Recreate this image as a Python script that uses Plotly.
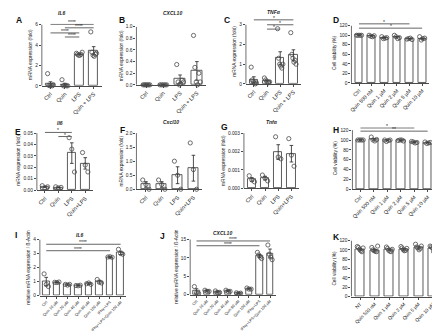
import numpy as np
import plotly.graph_objects as go

W, H = 440, 331
FONT = "Liberation Sans"
LC = "#4a4a4a"

# ---------------- data ----------------
grp4 = ["Ctrl", "Quin", "LPS", "Quin + LPS"]
grp4b = ["Ctrl", "Quin", "LPS", "Quin+LPS"]
dose6 = ["Ctrl", "Quin 500 nM", "Quin 1 µM", "Quin 2 µM", "Quin 5 µM", "Quin 10 µM"]
dose6k = ["NT", "Quin 500 nM", "Quin 1 µM", "Quin 2 µM", "Quin 5 µM", "Quin 10 µM"]
grp8 = ["Ctrl", "Quin 10 µM", "Quin 20 µM", "Quin 40 µM", "Quin 80 µM", "Quin 100 µM",
        "IFNγ+LPS", "IFNγ+LPS+Quin 100 µM"]

A_mean = [0.2, 0.13, 3.1, 3.45]
A_sem = [0.2, 0.12, 0.05, 0.4]
A_pts = [[1.2, 0.05, 0.0, 0.05, 0.0, 0.1], [0.6, 0.0, 0.05, 0.0, 0.0],
         [3.2, 3.1, 3.0, 3.0, 3.1, 3.3], [5.3, 3.3, 3.0, 2.9, 3.1, 3.2]]
A_sig = [(0, 3, 6.05, "****"), (1, 3, 5.7, "****"), (0, 2, 5.2, "****"), (1, 2, 4.8, "****")]

B_mean = [0.0, 0.0, 0.1, 0.24]
B_sem = [0.0, 0.0, 0.07, 0.16]
B_pts = [[0, 0, 0, 0, 0, 0], [0, 0, 0, 0, 0],
         [0.35, 0.05, 0.0, 0.02, 0.08, 0.05], [0.85, 0.3, 0.05, 0.0, 0.2, 0.05]]

C_mean = [0.21, 0.15, 1.3, 1.45]
C_sem = [0.15, 0.05, 0.33, 0.28]
C_pts = [[0.85, 0.2, 0.1, 0.05, 0.0, 0.05], [0.3, 0.2, 0.1, 0.05, 0.1],
         [2.8, 1.3, 1.0, 0.9, 0.8, 1.0], [2.6, 1.5, 1.3, 1.1, 1.2, 1.0]]
C_sig = [(0, 3, 3.25, "*"), (1, 3, 3.0, "*"), (1, 2, 2.78, "*")]

D_mean = [100, 98.5, 94.5, 96, 92.5, 93]
D_sem = [0, 0.8, 0.9, 1.5, 0.7, 1.5]
D_pts = [[100, 100, 100, 100], [100, 98, 97, 99], [97, 93, 94, 95],
         [100, 97, 93, 95], [92, 93, 94, 91], [97, 90, 93, 94]]
D_sig = [(0, 4, 124, "*"), (0, 5, 115, "*")]

E_mean = [0.003, 0.0025, 0.0325, 0.0235]
E_sem = [0.0006, 0.0003, 0.009, 0.005]
E_pts = [[0.004, 0.002, 0.003], [0.003, 0.002, 0.0025],
         [0.046, 0.036, 0.016], [0.033, 0.022, 0.016]]
E_sig = [(0, 2, 0.0506, "*"), (1, 2, 0.047, "*")]

F_mean = [0.17, 0.17, 0.5, 0.75]
F_sem = [0.1, 0.1, 0.3, 0.46]
F_pts = [[0.33, 0.17, 0.0], [0.33, 0.17, 0.0], [1.0, 0.5, 0.0], [1.65, 0.7, 0.0]]

G_mean = [0.00048, 0.00055, 0.00197, 0.00188]
G_sem = [0.0001, 0.0001, 0.0004, 0.00045]
G_pts = [[0.00068, 0.00045, 0.00035], [0.00072, 0.00055, 0.0004],
         [0.0028, 0.0017, 0.0016], [0.0027, 0.0018, 0.0012]]

H_mean = [100, 101, 99, 99, 95.5, 94.5]
H_sem = [0, 1.5, 0.8, 0.5, 0.7, 0.7]
H_pts = [[100, 100, 100, 100], [106, 100, 98, 101], [100, 97, 99, 100],
         [99, 100, 100, 98], [97, 96, 94, 95], [96, 93, 94, 95]]
H_sig = [(0, 4, 124.5, "*"), (0, 5, 118, "**")]

I_mean = [1.0, 0.95, 0.78, 0.72, 0.85, 1.0, 2.75, 3.05]
I_sem = [0.3, 0.02, 0.05, 0.03, 0.06, 0.1, 0.03, 0.12]
I_pts = [[1.55, 0.8, 0.65], [0.95, 0.93, 0.97], [0.8, 0.75, 0.8], [0.72, 0.7, 0.74],
         [0.85, 0.9, 0.8], [1.15, 0.95, 0.9], [2.75, 2.77, 2.73], [3.3, 3.0, 2.95]]
I_sig = [(0, 7, 3.66, "****"), (0, 6, 3.2, "****")]

J_mean = [1.0, 1.0, 0.75, 1.0, 0.4, 1.6, 10.5, 11.2]
J_sem = [0.6, 0.2, 0.2, 0.15, 0.1, 0.15, 0.4, 1.2]
J_pts = [[2.2, 0.5, 0.3], [1.2, 0.9, 0.9], [1.0, 0.6, 0.6], [1.2, 0.9, 0.9],
         [0.5, 0.3, 0.4], [1.8, 1.5, 1.5], [11.5, 10.8, 10.2, 9.8], [13.5, 11.0, 10.2, 9.5]]
J_sig = [(0, 7, 14.6, "****"), (0, 6, 13.3, "****")]

K_mean = [100, 99, 100, 101, 104, 103]
K_sem = [2, 2, 2, 2, 2, 3]
K_pts = [[107, 105, 101, 98, 96, 104], [105, 100, 98, 97, 96, 108], [106, 103, 99, 97, 96, 101],
         [107, 104, 100, 98, 99, 103], [112, 106, 104, 100, 103, 108], [108, 106, 104, 96, 94, 105]]

# ---------------- panel configuration ----------------
mrna = "mRNA expression (fold)"
via = "Cell viability (%)"
rel = "relative mRNA expression / ß-Actin"

panels = [
    dict(L="A", cats=grp4, m=A_mean, s=A_sem, p=A_pts, sig=A_sig, ticks=[0, 2, 4, 6], fmt="{:.0f}",
         rmax=6.1, box=(32, 92, 15, 77), yt=mrna, title="<i>IL6</i>", tpos=(52, 3), lpos=(4, 10), xf=5.6),
    dict(L="B", cats=grp4, m=B_mean, s=B_sem, p=B_pts, sig=[], ticks=[0, 0.2, 0.4, 0.6, 0.8, 1.0], fmt="{:.1f}",
         rmax=1.0, box=(127, 197, 17, 76), yt=mrna, title="<i>CXCL10</i>", tpos=(163, 3), lpos=(107, 10), xf=5.6),
    dict(L="C", cats=grp4, m=C_mean, s=C_sem, p=C_pts, sig=C_sig, ticks=[0, 1, 2, 3], fmt="{:.0f}",
         rmax=3.3, box=(237, 292, 15, 75), yt=mrna, title="<i>TNFα</i>", tpos=(265, 2.5), lpos=(213, 10), xf=5.6),
    dict(L="D", cats=dose6, m=D_mean, s=D_sem, p=D_pts, sig=D_sig, ticks=list(range(0, 121, 20)), fmt="{:.0f}",
         rmax=126, box=(343, 421, 16, 74), yt=via, title="", tpos=(0, 0), lpos=(322, 10), xf=5.2),
    dict(L="E", cats=grp4b, m=E_mean, s=E_sem, p=E_pts, sig=E_sig, ticks=[0, 0.01, 0.02, 0.03, 0.04, 0.05], fmt="{:.2f}",
         rmax=0.052, box=(27, 83, 125, 183), yt=mrna, title="<i>Il6</i>", tpos=(50, 115), lpos=(3, 124), xf=5.6),
    dict(L="F", cats=grp4b, m=F_mean, s=F_sem, p=F_pts, sig=[], ticks=[0, 0.5, 1.0, 1.5, 2.0], fmt="{:.1f}",
         rmax=2.0, box=(127, 193, 125, 182), yt=mrna, title="<i>Cxcl10</i>", tpos=(162, 114), lpos=(108, 122), xf=5.6),
    dict(L="G", cats=grp4b, m=G_mean, s=G_sem, p=G_pts, sig=[], ticks=[0, 0.001, 0.002, 0.003], fmt="{:.3f}",
         rmax=0.003, box=(235, 290, 125, 181), yt=mrna, title="<i>Tnfα</i>", tpos=(263, 114), lpos=(210, 119), xf=5.6),
    dict(L="H", cats=dose6, m=H_mean, s=H_sem, p=H_pts, sig=H_sig, ticks=list(range(0, 121, 20)), fmt="{:.0f}",
         rmax=126, box=(344, 427, 122, 182), yt=via, title="", tpos=(0, 0), lpos=(322, 122), xf=5.2),
    dict(L="I", cats=grp8, m=I_mean, s=I_sem, p=I_pts, sig=I_sig, ticks=[0, 1, 2, 3, 4], fmt="{:.0f}",
         rmax=4.0, box=(30, 117, 233, 290), yt=rel, title="<i>IL6</i>", tpos=(70, 228), lpos=(3, 228), xf=3.8),
    dict(L="J", cats=grp8, m=J_mean, s=J_sem, p=J_pts, sig=J_sig, ticks=[0, 5, 10, 15], fmt="{:.0f}",
         rmax=15.2, box=(181, 267, 233, 289), yt=rel, title="<i>CXCL10</i>", tpos=(213, 226), lpos=(149, 229), xf=3.8),
    dict(L="K", cats=dose6k, m=K_mean, s=K_sem, p=K_pts, sig=[], ticks=list(range(0, 121, 20)), fmt="{:.0f}",
         rmax=120, box=(343, 433, 234, 291), yt=via, title="", tpos=(0, 0), lpos=(322, 230), xf=4.8),
]

fig = go.Figure()
shapes, annos = [], []
layout = {}

for k, p in enumerate(panels, start=1):
    xs = "" if k == 1 else str(k)
    xname, yname = "x" + xs, "y" + xs
    n = len(p["cats"])
    xl, xr, ytp, y0 = p["box"]
    T = p["ticks"][-1]
    ppu = (y0 - ytp) / T
    ytop = y0 - p["rmax"] * ppu
    xpos = list(range(n))

    fig.add_trace(go.Bar(
        x=xpos, y=p["m"], width=0.62, xaxis=xname, yaxis=yname,
        marker=dict(color="white", line=dict(color=LC, width=0.9)),
        error_y=dict(type="data", array=p["s"], visible=True, color="#222", thickness=0.8, width=1.8),
        showlegend=False))
    px, py = [], []
    for i, vals in enumerate(p["p"]):
        offs = np.linspace(-0.2, 0.2, len(vals)) if len(vals) > 1 else [0]
        for o, v in zip(offs, vals):
            px.append(i + o)
            py.append(v)
    fig.add_trace(go.Scatter(
        x=px, y=py, mode="markers", xaxis=xname, yaxis=yname, cliponaxis=False,
        marker=dict(symbol="circle-open", size=4.2, color=LC, line=dict(width=0.8, color=LC)),
        showlegend=False))

    layout["xaxis" + xs] = dict(
        domain=[xl / W, xr / W], anchor=yname, range=[-0.6, n - 0.45],
        tickmode="array", tickvals=xpos, ticktext=p["cats"], tickangle=-45,
        tickfont=dict(size=p["xf"], family=FONT, color="#222"),
        showline=True, linecolor=LC, linewidth=0.8, ticks="outside", ticklen=2,
        tickwidth=0.7, tickcolor=LC, showgrid=False, zeroline=False, fixedrange=True)
    layout["yaxis" + xs] = dict(
        domain=[1 - y0 / H, 1 - ytop / H], anchor=xname, range=[0, p["rmax"]],
        tickmode="array", tickvals=p["ticks"], ticktext=[p["fmt"].format(t) for t in p["ticks"]],
        tickfont=dict(size=4.8, family=FONT, color="#222"),
        showline=False, ticks="outside", ticklen=2, tickwidth=0.7, tickcolor=LC,
        showgrid=False, zeroline=False, fixedrange=True,
        title=dict(text=p["yt"], font=dict(size=4.8, family=FONT, color="#222"), standoff=2))
    shapes.append(dict(type="line", xref=xname + " domain", yref=yname, x0=0, x1=0, y0=0, y1=T,
                       line=dict(color=LC, width=0.8)))
    for a, b, h, lab in p["sig"]:
        shapes.append(dict(type="line", xref=xname, yref=yname, x0=a, x1=b, y0=h, y1=h,
                           line=dict(color="#666", width=1)))
        annos.append(dict(x=(a + b) / 2, y=h, xref=xname, yref=yname, text=lab, showarrow=False,
                          yanchor="bottom", yshift=-3, font=dict(size=5, family=FONT, color="#222")))
    annos.append(dict(x=p["lpos"][0] / W, y=1 - p["lpos"][1] / H, xref="paper", yref="paper",
                      text="<b>" + p["L"] + "</b>", showarrow=False, xanchor="left", yanchor="middle",
                      font=dict(size=8.5, family=FONT, color="#111")))
    if p["title"]:
        annos.append(dict(x=p["tpos"][0] / W, y=1 - p["tpos"][1] / H, xref="paper", yref="paper",
                          text="<b>" + p["title"] + "</b>", showarrow=False, xanchor="center",
                          yanchor="middle", font=dict(size=5, family=FONT, color="#222")))

fig.update_layout(width=W, height=H, margin=dict(l=0, r=0, t=0, b=0),
                  paper_bgcolor="white", plot_bgcolor="white", showlegend=False,
                  bargap=0, shapes=shapes, annotations=annos, **layout)
fig.write_html("out.html")
